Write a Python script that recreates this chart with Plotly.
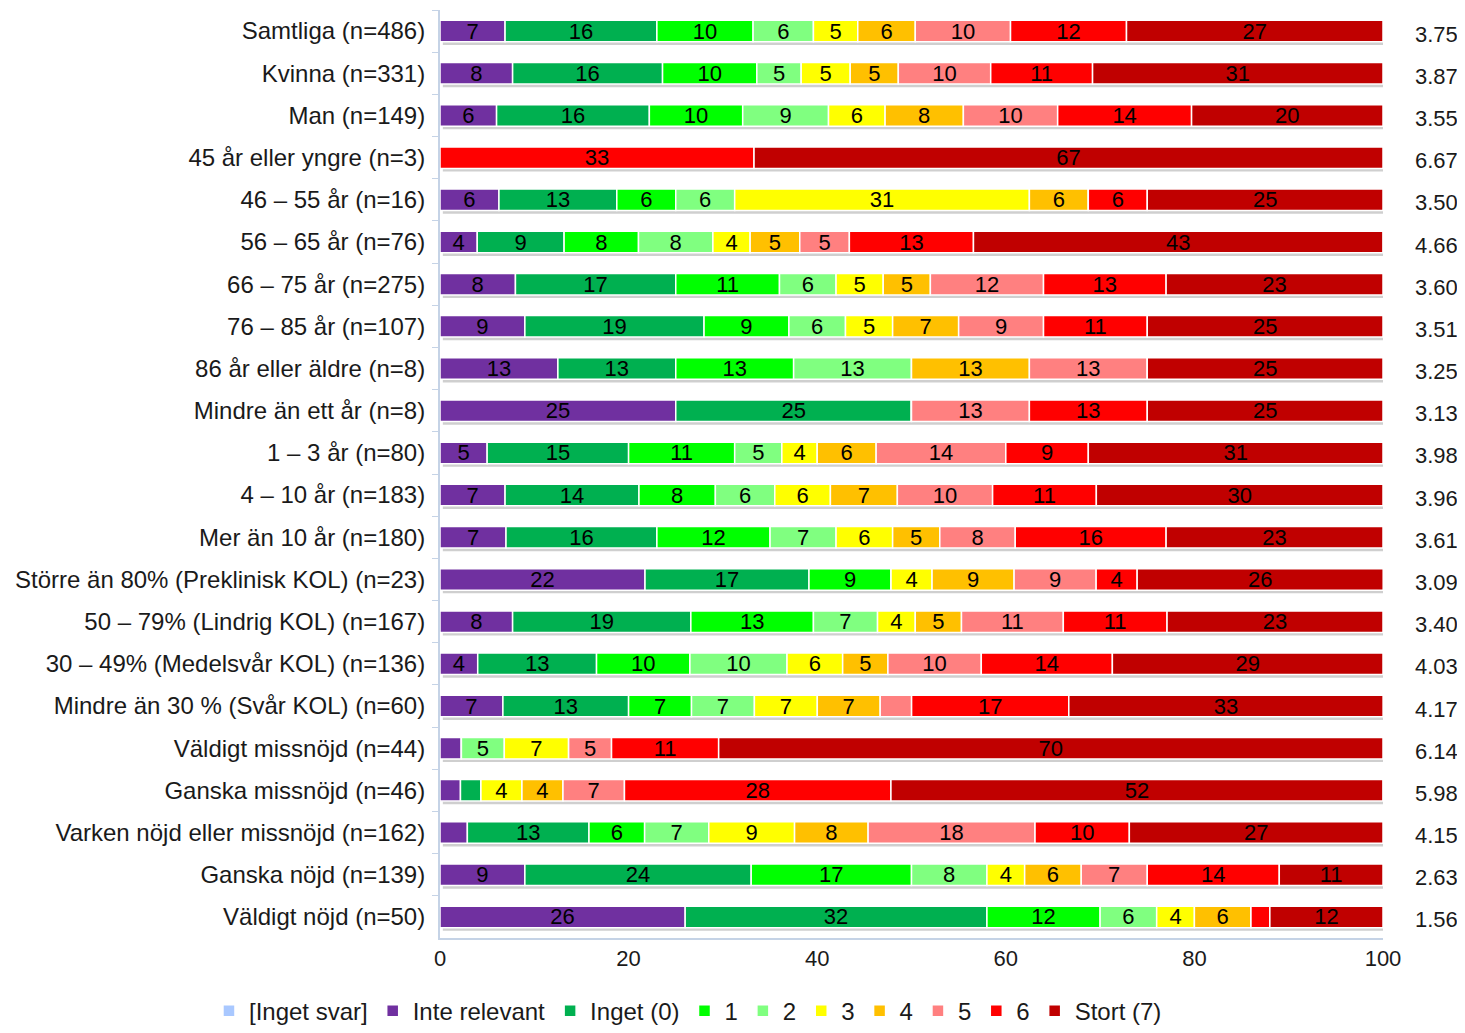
import plotly.graph_objects as go

categories = [
    "Samtliga (n=486)", "Kvinna (n=331)", "Man (n=149)", "45 år eller yngre (n=3)",
    "46 – 55 år (n=16)", "56 – 65 år (n=76)", "66 – 75 år (n=275)", "76 – 85 år (n=107)",
    "86 år eller äldre (n=8)", "Mindre än ett år (n=8)", "1 – 3 år (n=80)",
    "4 – 10 år (n=183)", "Mer än 10 år (n=180)", "Större än 80% (Preklinisk KOL) (n=23)",
    "50 – 79% (Lindrig KOL) (n=167)", "30 – 49% (Medelsvår KOL) (n=136)",
    "Mindre än 30 % (Svår KOL) (n=60)", "Väldigt missnöjd (n=44)", "Ganska missnöjd (n=46)",
    "Varken nöjd eller missnöjd (n=162)", "Ganska nöjd (n=139)", "Väldigt nöjd (n=50)",
]

series_names = ["[Inget svar]", "Inte relevant", "Inget (0)", "1", "2", "3", "4", "5", "6", "Stort (7)"]
colors = ["#A9C8FF", "#7030A0", "#00B050", "#00FF00", "#80FF80", "#FFFF00",
          "#FFC000", "#FF8080", "#FF0000", "#C00000"]

inget_svar    = [0] * 22
inte_relevant = [6.9, 7.7, 6.0, 0, 6.25, 3.95, 8, 9, 12.5, 25, 5, 6.9, 7, 21.74, 7.7, 4.0, 6.67, 2.27, 2.17, 2.9, 9, 26]
inget_0       = [16.1, 15.9, 16.2, 0, 12.5, 9.21, 17, 19, 12.5, 25, 15, 14.2, 16, 17.39, 18.9, 12.6, 13.33, 0, 2.17, 12.9, 24, 32]
v1            = [10.2, 10.0, 9.9, 0, 6.25, 7.89, 11, 9, 12.5, 0, 11.25, 8.1, 12, 8.70, 13.0, 9.9, 6.67, 0, 0, 5.9, 17, 12]
v2            = [6.4, 4.7, 9.1, 0, 6.25, 7.89, 6, 6, 12.5, 0, 5, 6.3, 7, 0, 6.8, 10.3, 6.67, 4.55, 0, 6.8, 8, 6]
v3            = [4.7, 5.2, 6.0, 0, 31.25, 3.95, 5, 5, 0, 0, 3.75, 5.9, 6, 4.35, 4.0, 5.9, 6.67, 6.82, 4.35, 9.1, 4, 4]
v4            = [6.1, 5.1, 8.3, 0, 6.25, 5.26, 5, 7, 12.5, 0, 6.25, 7.1, 5, 8.70, 4.9, 4.8, 6.67, 0, 4.35, 7.8, 6, 6]
v5            = [10.1, 9.8, 10.0, 0, 0, 5.26, 12, 9, 12.5, 12.5, 13.75, 10.1, 8, 8.70, 10.8, 9.9, 3.33, 4.55, 6.52, 17.7, 7, 0]
v6            = [12.3, 10.8, 14.2, 33.3, 6.25, 13.16, 13, 11, 0, 12.5, 8.75, 11.0, 16, 4.35, 11.0, 13.9, 16.67, 11.36, 28.26, 10.0, 14, 2]
stort_7       = [27.2, 30.8, 20.3, 66.7, 25, 43.42, 23, 25, 25, 25, 31.25, 30.4, 23, 26.09, 22.9, 28.7, 33.33, 70.45, 52.17, 26.9, 11, 12]

means = ["3.75", "3.87", "3.55", "6.67", "3.50", "4.66", "3.60", "3.51", "3.25", "3.13", "3.98",
         "3.96", "3.61", "3.09", "3.40", "4.03", "4.17", "6.14", "5.98", "4.15", "2.63", "1.56"]

x_ticks = [0, 20, 40, 60, 80, 100]

series_values = [inget_svar, inte_relevant, inget_0, v1, v2, v3, v4, v5, v6, stort_7]

FONT = "Liberation Sans, Arial, sans-serif"
BAR_W = 0.51

def label(v):
    return str(int(v + 0.5)) if v >= 3.5 else ""

# cumulative bases for the stacked segments (overlay mode so a shadow can sit underneath)
n = len(categories)
bases = []
running = [0.0] * n
for vals in series_values:
    bases.append(list(running))
    running = [r + v for r, v in zip(running, vals)]
totals = running

fig = go.Figure()
# soft drop shadow under each bar
fig.add_trace(go.Bar(
    y=categories, x=totals, base=[0.3] * n, orientation="h", width=BAR_W,
    offset=-BAR_W / 2 + 0.075, marker=dict(color="#CFCFCF", line=dict(width=0)),
    showlegend=False, hoverinfo="skip",
))
for name, col, vals, b in zip(series_names, colors, series_values, bases):
    fig.add_trace(go.Bar(
        y=categories, x=vals, base=b, name=name, orientation="h", width=BAR_W,
        marker=dict(color=col, line=dict(color="white", width=1.5)),
        text=[label(v) for v in vals],
        textposition="inside", insidetextanchor="middle", textangle=0,
        textfont=dict(family=FONT, size=22, color="black"),
        hoverinfo="x+name",
    ))

for cat, m in zip(categories, means):
    fig.add_annotation(x=1.057, xref="paper", y=cat, yref="y", text=m, showarrow=False,
                       xanchor="center", yshift=-3,
                       font=dict(family=FONT, size=22, color="#1a1a1a"))

fig.update_layout(
    barmode="overlay",
    width=1449, height=1017,
    margin=dict(l=432, r=74, t=2, b=87, autoexpand=False),
    plot_bgcolor="white", paper_bgcolor="white",
    font=dict(family=FONT, size=22, color="#1a1a1a"),
    uniformtext=dict(minsize=22, mode="show"),
    showlegend=True,
    legend=dict(orientation="h", x=-0.245, xanchor="left", y=-0.103, yanchor="bottom",
                font=dict(family=FONT, size=24, color="#1a1a1a"),
                traceorder="normal", itemwidth=30, tracegroupgap=0),
    xaxis=dict(range=[0, 100], tickvals=x_ticks, showgrid=False, zeroline=False,
               showline=True, linecolor="#C5D3E6", linewidth=2,
               ticks="", tickfont=dict(family=FONT, size=22, color="#1a1a1a")),
    yaxis=dict(categoryorder="array", categoryarray=categories, autorange="reversed",
               showgrid=False, showline=True, linecolor="#C5D3E6", linewidth=2,
               ticks="outside", tickson="boundaries", ticklen=6, tickcolor="#C5D3E6",
               ticklabelstandoff=8,
               tickfont=dict(family=FONT, size=24, color="#1a1a1a")),
)

fig.write_html("out.html")
